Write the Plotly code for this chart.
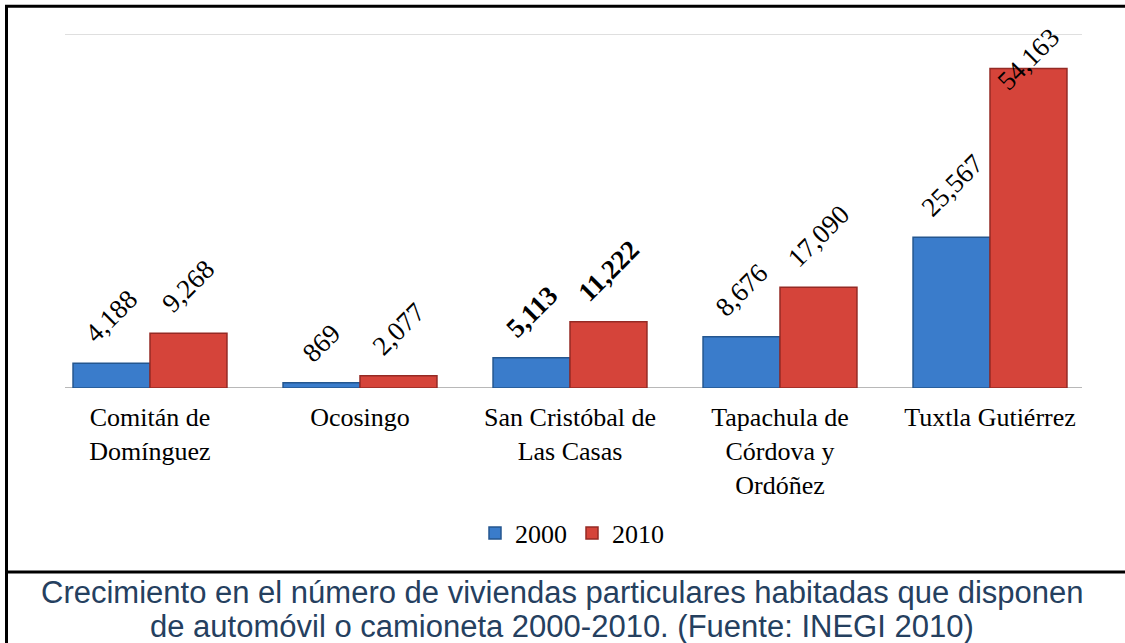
import plotly.graph_objects as go

# data
categories = ["Comitán de<br>Domínguez", "Ocosingo", "San Cristóbal de<br>Las Casas",
              "Tapachula de<br>Córdova y<br>Ordóñez", "Tuxtla Gutiérrez"]
values_2000 = [4188, 869, 5113, 8676, 25567]
values_2010 = [9268, 2077, 11222, 17090, 54163]
bold_categories = ["San Cristóbal de<br>Las Casas"]
series_names = ["2000", "2010"]
y_max = 60000
caption_lines = [
    "Crecimiento en el número de viviendas particulares habitadas que disponen",
    "de automóvil o camioneta 2000-2010. (Fuente: INEGI 2010)",
]

W, H = 1125, 643
ML, MR, MT, MB = 45, 30, 34, 255
plot_w = W - ML - MR
plot_h = H - MT - MB


def px_x(p):
    return (p - ML) / plot_w


def px_y(p):
    return (H - MB - p) / plot_h


serif = "Liberation Serif, Times New Roman, serif"
blue, blue_edge = "#3a7ccb", "#24568f"
red, red_edge = "#d5443a", "#952a24"
bargap = 0.267
bar_px = plot_w / len(categories) * (1 - bargap) / 2

fig = go.Figure()
fig.add_trace(go.Bar(x=categories, y=values_2000, name=series_names[0],
                     marker=dict(color=blue, line=dict(color=blue_edge, width=1.5))))
fig.add_trace(go.Bar(x=categories, y=values_2010, name=series_names[1],
                     marker=dict(color=red, line=dict(color=red_edge, width=1.5))))

# rotated value labels
annotations = []
for vals, sh in [(values_2000, -bar_px / 2), (values_2010, bar_px / 2)]:
    for cat, v in zip(categories, vals):
        txt = f"{v:,}"
        if cat in bold_categories:
            txt = f"<b>{txt}</b>"
        annotations.append(dict(
            x=cat, y=v, xref="x", yref="y", text=txt, showarrow=False,
            textangle=-45, xanchor="center", yanchor="bottom",
            xshift=sh, yshift=12 if v < 0.85 * y_max else -30,
            font=dict(family=serif, size=27, color="black")))

# caption below the box
for line, yc in zip(caption_lines, [592, 626]):
    annotations.append(dict(
        x=px_x(562), y=px_y(yc), xref="paper", yref="paper", text=line,
        showarrow=False, xanchor="center", yanchor="middle",
        font=dict(family="Liberation Sans, Arial, sans-serif", size=31, color="#25405f")))

shapes = [
    # gridline at top and base line
    dict(type="line", xref="paper", yref="y", x0=px_x(65), x1=px_x(1082), y0=y_max, y1=y_max,
         line=dict(color="#d4d4d4", width=1.5), layer="below"),
    dict(type="line", xref="paper", yref="y", x0=px_x(65), x1=px_x(1082), y0=0, y1=0,
         line=dict(color="#a0a0a0", width=1.5), layer="below"),
    # frame
    dict(type="line", xref="paper", yref="paper", x0=px_x(6.5), x1=px_x(6.5), y0=px_y(5), y1=px_y(645),
         line=dict(color="black", width=3)),
    dict(type="line", xref="paper", yref="paper", x0=px_x(5), x1=px_x(1126), y0=px_y(6.2), y1=px_y(6.2),
         line=dict(color="black", width=3)),
    dict(type="line", xref="paper", yref="paper", x0=px_x(5), x1=px_x(1126), y0=px_y(572), y1=px_y(572),
         line=dict(color="black", width=3)),
]

fig.update_layout(
    width=W, height=H, autosize=False,
    margin=dict(l=ML, r=MR, t=MT, b=MB),
    paper_bgcolor="white", plot_bgcolor="white",
    barmode="group", bargap=bargap, bargroupgap=0,
    xaxis=dict(showline=False, showgrid=False, ticks="", ticklabelstandoff=11,
               tickfont=dict(family=serif, size=26, color="black")),
    yaxis=dict(range=[0, y_max], visible=False),
    legend=dict(orientation="h", x=px_x(572), y=px_y(533), xanchor="center", yanchor="middle",
                font=dict(family=serif, size=26, color="black")),
    annotations=annotations,
    shapes=shapes,
)

# the page has an 8px body margin by default; drop it so the figure sits at 0,0
fig.write_html("out.html", config={"displayModeBar": False},
               post_script="document.body.style.margin='0px';")
